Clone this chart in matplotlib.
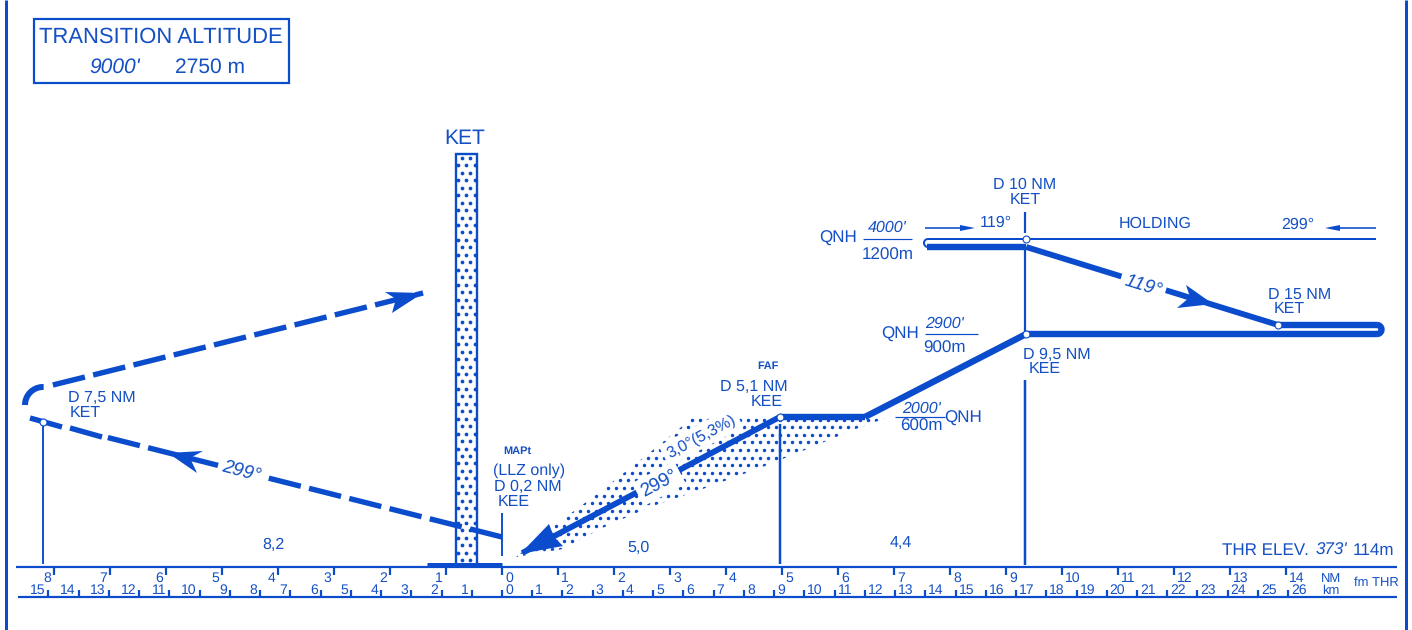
import matplotlib
matplotlib.use("Agg")
import matplotlib.pyplot as plt
import numpy as np
from matplotlib.patches import Polygon, Rectangle
from matplotlib.transforms import Affine2D

plt.rcParams["font.family"] = ["Liberation Sans", "DejaVu Sans"]
plt.rcParams["text.hinting"] = "no_hinting"
plt.rcParams["text.hinting_factor"] = 1

BLUE = "#0a4ccb"
TEXT = "#1450c4"

# profile, x in NM from threshold, y as chart row
nm_ticks = list(range(-8, 15))
km_ticks = list(range(-15, 27))
approach_x = [4.96, 0.36]
approach_y = [417, 553]
level_x = [4.96, 6.48]
level_y = [417, 417]
climb_x = [6.48, 9.36]
climb_y = [417, 334]
outbound_x = [9.36, 15.62]
outbound_y = [334, 334]
inbound_x = [13.86, 15.62]
inbound_y = [325, 325]
descent_x = [13.86, 9.36]
descent_y = [325, 247]
hold_thick_x = [9.36, 7.59]
hold_thick_y = [247, 247]
missed_x = [0.0, -7.15]
missed_y = [537, 436]
return_x = [-8.02, -1.41]
return_y = [385, 293]
fix_x = [9.36, 9.36, 13.86, 4.96, -8.2]
fix_y = [239, 334, 325, 417, 422]

W, H = 1412, 630
PX_PER_NM = 56
fig = plt.figure(figsize=(W / 100, H / 100), dpi=100)
ax = fig.add_axes([0, 0, 1, 1])
ax.set_xlim(-502 / PX_PER_NM, (W - 502) / PX_PER_NM)
ax.set_ylim(H, 0)
ax.axis("off")

# chart pixels for the drawing furniture
px = Affine2D().scale(1, -1).translate(0, H)


def line(xs, ys, w=1.0, **kw):
    kw.setdefault("color", BLUE)
    kw.setdefault("solid_capstyle", "butt")
    ax.plot(xs, ys, lw=w * 0.72, transform=px, **kw)


def label(x, y, s, size=11.5, ha="center", white=False, **kw):
    if white:
        kw["bbox"] = dict(facecolor="white", edgecolor="none", pad=3)
    ax.text(x, y + 1.5, s, fontsize=size, color=TEXT, ha=ha, va="center",
            transform=px, zorder=kw.pop("zorder", 6), **kw)


def head(points):
    ax.add_patch(Polygon(points, closed=True, facecolor=BLUE, edgecolor="none",
                         transform=px, zorder=4))


def dashed(xs, ys, on=33, off=8.5, w=5.4):
    # dashes measured on the chart, in pixels along the track
    dx = (xs[1] - xs[0]) * PX_PER_NM
    dy = ys[1] - ys[0]
    length = np.hypot(dx, dy)
    pos = 0
    while pos < length:
        a, b = pos / length, min(pos + on, length) / length
        ax.plot([xs[0] + a * (xs[1] - xs[0]), xs[0] + b * (xs[1] - xs[0])],
                [ys[0] + a * dy, ys[0] + b * dy],
                color=BLUE, lw=w * 0.72, solid_capstyle="butt", zorder=3)
        pos += on + off


# frame, only the two sides are printed
line([6, 6], [0, 630], 3)
line([1405.5, 1405.5], [0, 630], 3)

# transition altitude box
ax.add_patch(Rectangle((34, 18.5), 255, 64, fill=False, edgecolor=BLUE, lw=1.6, transform=px))
label(161, 36, "TRANSITION ALTITUDE", 15.6)
label(115, 66, "9000'", 15, style="italic")
label(210, 66, "2750 m", 15)

# stipple in the KET column
ax.add_patch(Rectangle((456, 153.5), 20.5, 411, facecolor="white", edgecolor=BLUE, lw=1.7,
                       transform=px, zorder=1))
rows = np.arange(158, 562, 7.45)
for i, r in enumerate(rows):
    cols = [458, 466, 474.5] if i % 2 else [462, 470]
    ax.plot(cols, [r] * len(cols), "o", color=BLUE, ms=2.7, mew=0, transform=px, zorder=2)

# stipple under the glide path
wedge = Polygon([(516, 557), (555, 525), (593, 497), (643, 458), (680, 428), (692, 418),
                 (886, 418), (853, 430), (800, 452), (760, 468), (700, 490), (650, 507),
                 (600, 529), (563, 549)], closed=True, transform=px)
gx, gy = [], []
for i, r in enumerate(np.arange(419.5, 560, 7.6)):
    x0 = 500 + (4 if i % 2 else 0)
    xs = np.arange(x0, 900, 8)
    gx.extend(xs)
    gy.extend([r] * len(xs))
dots = ax.plot(gx, gy, "o", color=BLUE, ms=2.5, mew=0, transform=px, zorder=2)[0]
dots.set_clip_path(wedge)

# flight path
path = dict(color=BLUE, lw=4.6, zorder=3, solid_capstyle="butt", solid_joinstyle="round")
ax.plot(approach_x, approach_y, **dict(path, lw=4.2))
ax.plot(level_x, level_y, **path)
ax.plot(climb_x, climb_y, **path)
ax.plot(outbound_x, outbound_y, **path)
ax.plot(inbound_x, inbound_y, **path)
ax.plot(descent_x, descent_y, **dict(path, lw=4.2))
ax.plot(hold_thick_x, hold_thick_y, **path)
theta = np.linspace(-np.pi / 2, np.pi / 2, 30)
line(1377 + 4.5 * np.cos(theta), 329.5 + 4.5 * np.sin(theta), 6.4, zorder=3)
head([(520, 554), (549, 524), (554, 537), (563, 546)])
head([(1213, 304), (1186, 285), (1190, 297), (1177, 308)])

# missed approach
dashed(missed_x, missed_y)
dashed(return_x, return_y)
t2 = np.linspace(np.radians(180), np.radians(272), 20)
line(43 + 18 * np.cos(t2), 405 + 18 * np.sin(t2), 6, zorder=3)
line([30, 62], [418, 427], 5.4, zorder=3)
line([70, 102], [428, 437], 5.4, zorder=3)
head([(168, 453), (203, 451), (190, 458), (197, 473)])
head([(423, 293), (385, 292), (396, 299), (392, 313)])

# holding
line([928, 1376], [239, 239], 2)
t3 = np.linspace(np.pi / 2, 3 * np.pi / 2, 20)
line(928 + 4 * np.cos(t3), 243 + 4 * np.sin(t3), 2)
line([925, 962], [228, 228], 1.6)
head([(975, 228), (960, 225), (960, 231)])
line([1376, 1338], [228, 228], 1.6)
head([(1325, 228), (1340, 225), (1340, 231)])

# verticals
line([1025, 1025], [212, 233], 2.2)
line([1025, 1025], [250, 334], 2.2)
line([1025, 1025], [380, 565], 2.5)
line([43, 43], [424, 564], 1.9)
line([502, 502], [513, 556], 1.9)
line([780, 780], [424, 564], 2.5)

ax.plot(fix_x, fix_y, "o", mfc="white", mec=BLUE, mew=0.8, ms=5, zorder=5)

# distance scale
line([16, 1397], [567, 567], 2.2)
line([18, 1397], [597, 597], 2.2)
line([427, 502], [564.5, 564.5], 5)
for n in nm_ticks:
    ax.plot([n, n], [567, 575], color=BLUE, lw=1.6, solid_capstyle="butt")
    right = n >= 0
    lx = 502 + PX_PER_NM * n + (3 if right else -3)
    label(lx, 577, str(abs(n)), 10, ha="left" if right else "right")
for k in km_ticks:
    ax.plot([k / 1.852, k / 1.852], [590, 597], color=BLUE, lw=1.6, solid_capstyle="butt")
    right = k >= 0
    lx = 502 + PX_PER_NM / 1.852 * k + (3 if right else -3)
    label(lx, 589, str(abs(k)), 10, ha="left" if right else "right")
label(1331, 577, "NM", 9.5)
label(1331, 589, "km", 9.5)
label(1376, 581, "fm THR", 9)
label(1309, 549, "THR ELEV.", 12.6, ha="right")
label(1316, 549, "373'", 12.6, ha="left", style="italic")
label(1353, 549, "114m", 12.6, ha="left")
label(273, 543, "8,2", 11.5)
label(638, 546, "5,0", 11.5)
label(901, 541, "4,4", 11.5)

# labels
label(465, 137, "KET", 15)
label(517, 450, "MAPt", 8, weight="bold")
label(529, 469, "(LLZ only)")
label(528, 485, "D 0,2 NM")
label(514, 500, "KEE")
label(768, 365, "FAF", 8, weight="bold")
label(754, 385, "D 5,1 NM")
label(767, 400, "KEE")
label(1025, 183, "D 10 NM")
label(1025, 198, "KET")
label(996, 221, "119°")
label(1155, 222, "HOLDING")
label(1298, 223, "299°")
label(1300, 293, "D 15 NM")
label(1289, 307, "KET")
label(1057, 353, "D 9,5 NM")
label(1045, 367, "KEE")
label(838, 237, "QNH", 12)
label(887, 226, "4000'", style="italic")
line([863, 912], [239, 239], 1.2)
label(888, 254, "1200m", 12)
label(900, 333, "QNH", 12)
label(944, 322, "2900'", style="italic")
line([925, 978], [334, 334], 1.2)
label(944, 347, "900m", 12)
label(921, 407, "2000'", style="italic")
line([895, 945], [417, 417], 1.2)
label(921, 425, "600m", 12)
label(963, 417, "QNH", 12)
label(102, 396, "D 7,5 NM")
label(85, 411, "KET")
label(241, 470, "299°", 13.5, white=True, style="italic", rotation=-15, rotation_mode="anchor")
label(1143, 284, "119°", 13.5, white=True, style="italic", rotation=-17, rotation_mode="anchor")
label(659, 482, "299°", 13.5, white=True, rotation=28, rotation_mode="anchor")
label(701, 435, "3,0°(5,3%)", white=True, rotation=28, rotation_mode="anchor")

fig.savefig("out.png", dpi=100, facecolor="white")
